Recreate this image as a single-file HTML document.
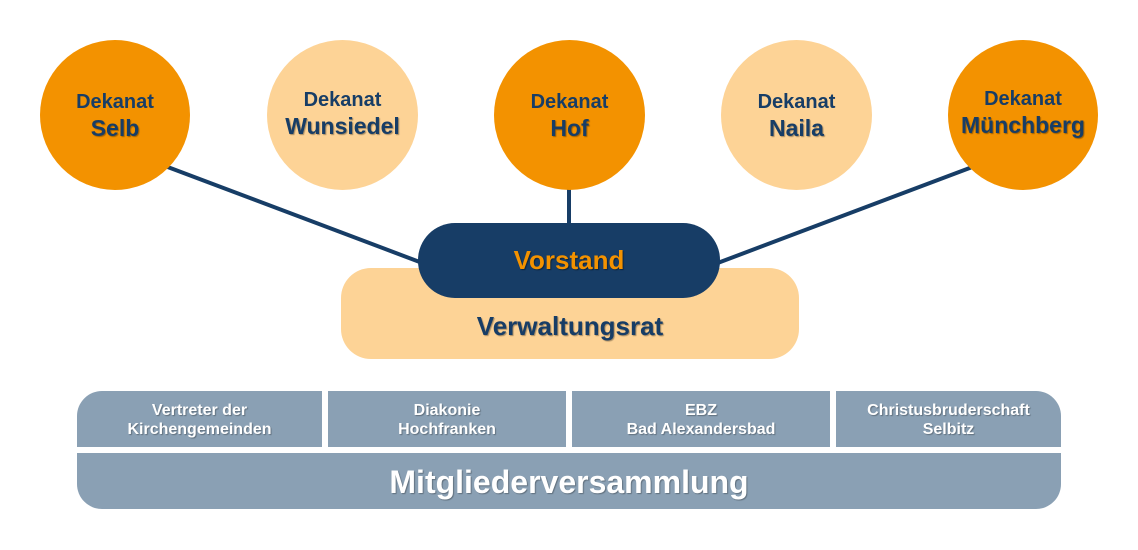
<!DOCTYPE html>
<html><head><meta charset="utf-8"><style>
body{margin:0;background:#fff;width:1138px;height:550px;position:relative;overflow:hidden;font-family:"Liberation Sans",Arial,sans-serif;font-weight:bold}
.c{position:absolute;border-radius:50%;text-align:center;color:#173d66;box-sizing:border-box}
.c .a{font-size:20px;margin-top:50px;line-height:24px}
.c .b{font-size:23px;line-height:29px;text-shadow:1px 1px 1px rgba(0,0,0,.35)}
.o{background:#f39200}.l{background:#fdd396}
.cell{position:absolute;top:391px;height:56px;background:#8aa0b4;color:#fff;font-size:16px;text-align:center;line-height:19px;box-sizing:border-box;padding-top:10px;text-shadow:1px 1px 1px rgba(0,0,0,.3)}
</style></head><body>
<svg width="1138" height="550" style="position:absolute;left:0;top:0">
<g stroke="#173d66" stroke-width="4"><line x1="165" y1="166" x2="425" y2="264"/><line x1="569" y1="185" x2="569" y2="226"/><line x1="975" y1="166" x2="715" y2="264"/></g></svg>
<div class="c o" style="left:40px;top:40px;width:150px;height:150px"><div class="a">Dekanat</div><div class="b">Selb</div></div>
<div class="c l" style="left:267px;top:40px;width:151px;height:150px"><div class="a" style="margin-top:48px">Dekanat</div><div class="b">Wunsiedel</div></div>
<div class="c o" style="left:494px;top:40px;width:151px;height:150px"><div class="a">Dekanat</div><div class="b">Hof</div></div>
<div class="c l" style="left:721px;top:40px;width:151px;height:150px"><div class="a">Dekanat</div><div class="b">Naila</div></div>
<div class="c o" style="left:948px;top:40px;width:150px;height:150px"><div class="a" style="margin-top:47px">Dekanat</div><div class="b">Münchberg</div></div>
<div style="position:absolute;left:341px;top:268px;width:458px;height:91px;background:#fdd396;border-radius:30px;text-align:center;color:#173d66;font-size:26px;line-height:30px;box-sizing:border-box;padding-top:43px;text-shadow:1px 1px 1px rgba(0,0,0,.35)">Verwaltungsrat</div>
<div style="position:absolute;left:418px;top:223px;width:302px;height:75px;background:#173d66;border-radius:37px;text-align:center;color:#f39200;font-size:26px;line-height:75px;text-shadow:1px 1px 1px rgba(0,0,0,.4)">Vorstand</div>
<div class="cell" style="left:77px;width:245px;border-top-left-radius:25px">Vertreter der<br>Kirchengemeinden</div>
<div class="cell" style="left:328px;width:238px">Diakonie<br>Hochfranken</div>
<div class="cell" style="left:572px;width:258px">EBZ<br>Bad Alexandersbad</div>
<div class="cell" style="left:836px;width:225px;border-top-right-radius:25px">Christusbruderschaft<br>Selbitz</div>
<div style="position:absolute;left:77px;top:453px;width:984px;height:56px;background:#8aa0b4;border-radius:0 0 25px 25px;color:#fff;text-align:center;font-size:32px;line-height:58px;text-shadow:1px 1px 1px rgba(0,0,0,.3)">Mitgliederversammlung</div>
</body></html>
